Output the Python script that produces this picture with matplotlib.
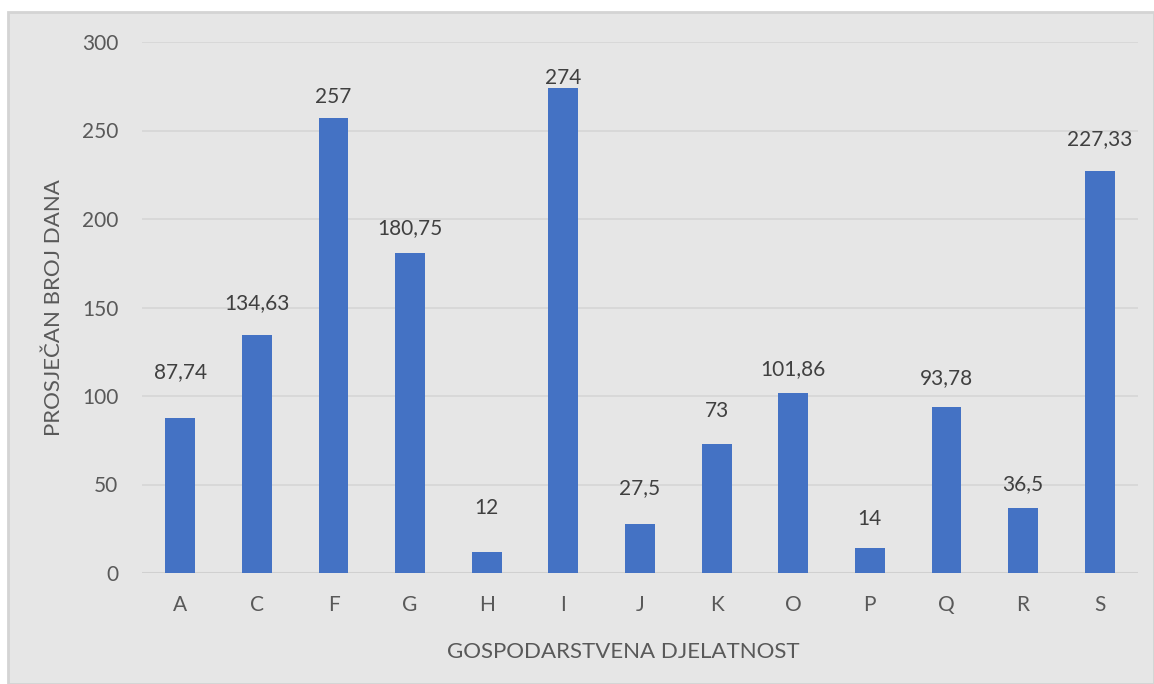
import matplotlib.pyplot as plt
from matplotlib.patches import Rectangle

categories = ['A', 'C', 'F', 'G', 'H', 'I', 'J', 'K', 'O', 'P', 'Q', 'R', 'S']
values = [87.74, 134.63, 257, 180.75, 12, 274, 27.5, 73, 101.86, 14, 93.78, 36.5, 227.33]
labels = ['87,74', '134,63', '257', '180,75', '12', '274', '27,5', '73', '101,86', '14', '93,78', '36,5', '227,33']

# the data labels were hand-placed in the original, distance above bar top in px
label_gap_px = [46, 32, 21, 25, 44, 10, 36, 33, 24, 29, 29, 24, 32]

plt.rcParams['font.family'] = ['Lato', 'DejaVu Sans']

bg = '#e6e6e6'
fig = plt.figure(figsize=(11.54, 6.84), dpi=100)
fig.patch.set_facecolor('white')
# chart area panel with light border (behind the axes)
fig.patches.append(Rectangle((8 / 1154, 0), 1 - 8 / 1154, 1 - 12 / 684, transform=fig.transFigure,
                             facecolor=bg, edgecolor='#d4d4d4', linewidth=2, zorder=-10))

ax = fig.add_axes([142 / 1154, 1 - 573 / 684, 996 / 1154, 531 / 684])
ax.set_facecolor(bg)
x = range(len(categories))
ax.bar(x, values, width=0.39, color='#4472c4', zorder=3)

for i, (v, l) in enumerate(zip(values, labels)):
    ax.annotate(l, (i, v), textcoords='offset points', xytext=(0, label_gap_px[i] * 0.72),
                ha='center', va='center', fontsize=15, color='#404040')

ax.set_xlim(-0.5, len(categories) - 0.5)
ax.set_ylim(0, 300)
ax.set_yticks(range(0, 301, 50))
ax.set_xticks(list(x))
ax.set_xticklabels(categories)
ax.grid(axis='y', color='#d6d6d6', linewidth=1.2, zorder=0)
for s in ax.spines.values():
    s.set_visible(False)
ax.axhline(0, color='#d0d0d0', linewidth=1.5, zorder=2)
ax.tick_params(axis='both', length=0, labelsize=15, labelcolor='#595959')
ax.tick_params(axis='y', pad=17)
ax.tick_params(axis='x', pad=16)

ax.set_xlabel('GOSPODARSTVENA DJELATNOST', fontsize=16, color='#595959', labelpad=19)
ax.xaxis.label.set_x(0.483)
ax.set_ylabel('PROSJEČAN BROJ DANA', fontsize=16, color='#595959', labelpad=13)

fig.savefig('out.png', dpi=100, facecolor=fig.get_facecolor())
